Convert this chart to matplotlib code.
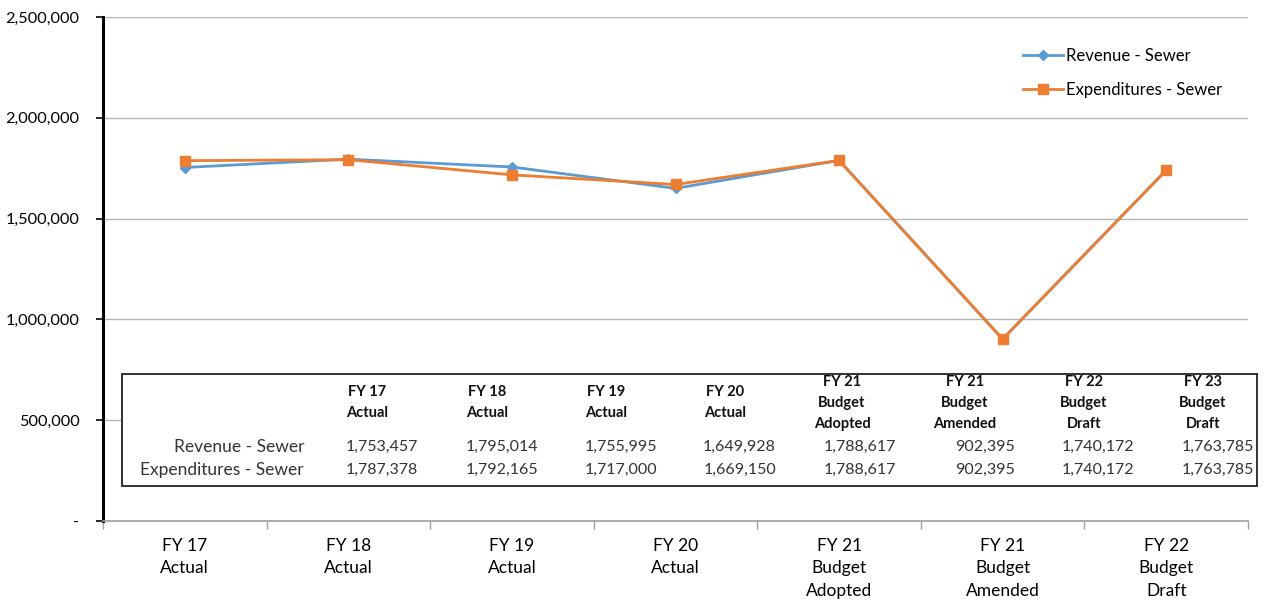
import matplotlib.pyplot as plt
from matplotlib.patches import Rectangle
from matplotlib.ticker import FuncFormatter, FixedLocator

plt.rcParams['font.family'] = ['Lato', 'DejaVu Sans']

# Sewer fund: revenue vs expenditures by budget year
table_columns = ["FY 17\nActual", "FY 18\nActual", "FY 19\nActual", "FY 20\nActual",
                 "FY 21\nBudget\nAdopted", "FY 21\nBudget\nAmended",
                 "FY 22\nBudget\nDraft", "FY 23\nBudget\nDraft"]
revenue = [1753457, 1795014, 1755995, 1649928, 1788617, 902395, 1740172, 1763785]
expenditures = [1787378, 1792165, 1717000, 1669150, 1788617, 902395, 1740172, 1763785]

# the chart itself only shows the first seven years
chart_labels = table_columns[:7]
n = len(chart_labels)

BLUE = '#5B9BD5'
ORANGE = '#ED7D31'

W, H = 1268, 603
fig = plt.figure(figsize=(W / 100, H / 100), dpi=100)
ax = fig.add_axes([103 / W, 1 - 521 / H, 1145 / W, 504 / H])

x = list(range(n))
ax.plot(x, revenue[:n], color=BLUE, lw=2.0, marker='D', ms=5.5,
        label='Revenue - Sewer', zorder=3)
ax.plot(x, expenditures[:n], color=ORANGE, lw=2.0, marker='s', ms=7.5,
        label='Expenditures - Sewer', zorder=4)

ax.set_xlim(-0.5, n - 0.5)
ax.set_ylim(0, 2500000)
ax.yaxis.set_major_locator(FixedLocator(range(0, 2500001, 500000)))
ax.yaxis.set_major_formatter(FuncFormatter(lambda v, p: '-' if v == 0 else f'{v:,.0f}'))
ax.grid(axis='y', color='#b4b4b4', lw=1.0)
ax.set_axisbelow(True)

ax.set_xticks(x)
ax.set_xticklabels(chart_labels, fontsize=12.5, linespacing=1.5, va='top')
ax.set_xticks([i + 0.5 for i in range(-1, n)], minor=True)
ax.tick_params(axis='x', which='major', length=0, pad=12)
ax.tick_params(axis='x', which='minor', length=6, color='#a0a0a0', width=1)
ax.tick_params(axis='y', labelsize=11.7, length=5, width=1.2, pad=12)

for s in ('top', 'right'):
    ax.spines[s].set_visible(False)
ax.spines['left'].set_linewidth(2.2)
ax.spines['left'].set_color('black')
ax.spines['bottom'].set_color('#a0a0a0')
ax.spines['bottom'].set_linewidth(1.2)

ax.legend(loc='upper left', bbox_to_anchor=(1008 / W, 1 - 33 / H),
          bbox_transform=fig.transFigure, frameon=False, fontsize=12,
          labelspacing=1.1, handlelength=2.4, handletextpad=0.2)


def fx(px):
    return px / W


def fy(py):
    return 1 - py / H


# data table laid over the lower part of the plot
fig.patches.append(Rectangle((fx(122), fy(486)), fx(1257) - fx(122), fy(374) - fy(486),
                             transform=fig.transFigure, facecolor='white',
                             edgecolor='#222222', lw=1.3, zorder=10))

header_x = [367, 487, 606, 725, 842, 965, 1084, 1203]
value_right = [418, 538, 657, 776, 896, 1015, 1134, 1254]
for hx, lab in zip(header_x, table_columns):
    lines = lab.split('\n')
    top = 392 if len(lines) == 2 else 382
    for k, line in enumerate(lines):
        fig.text(fx(hx), fy(top + 21 * k), line, ha='center', va='center',
                 fontsize=10.5, fontweight='bold', color='#111111', zorder=11)

for row_y, name, vals in [(447, 'Revenue - Sewer', revenue),
                          (470, 'Expenditures - Sewer', expenditures)]:
    fig.text(fx(304), fy(row_y), name, ha='right', va='center',
             fontsize=12.5, color='#333333', zorder=11)
    for rx, v in zip(value_right, vals):
        fig.text(fx(rx), fy(row_y), f'{v:,}', ha='right', va='center',
                 fontsize=11.5, color='#333333', zorder=11)

fig.savefig('out.png', dpi=100)
